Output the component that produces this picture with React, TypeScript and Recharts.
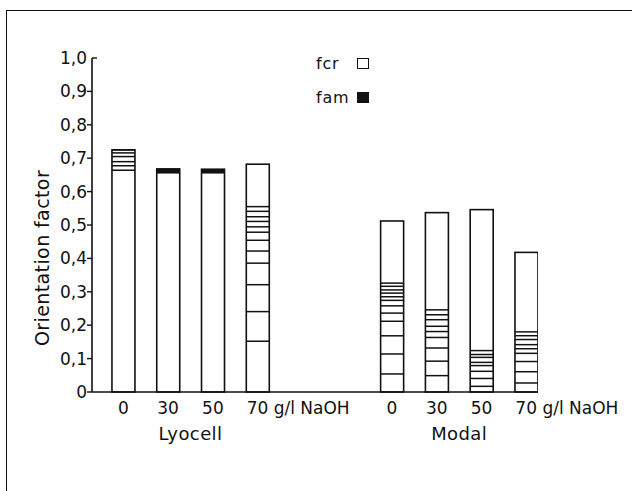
import { BarChart, Bar, XAxis, YAxis } from 'recharts';

// fibre types and NaOH concentrations (g/l)
const groups = ['Lyocell', 'Modal'];
const groupCenters = [1.5, 7.5];
const concentrations = ['0', '30', '50', '70', '0', '30', '50', '70'];
const slots = [0, 1, 2, 3, 6, 7, 8, 9];

// orientation factors
const fcr = [0.725, 0.668, 0.667, 0.682, 0.512, 0.537, 0.546, 0.418];
const famTop = [0.725, 0.668, 0.667, 0.555, 0.326, 0.246, 0.124, 0.18];
const famBottom = [0.664, 0.654, 0.654, 0.152, 0.054, 0.049, 0.017, 0.027];

const yTicks = [0, 0.1, 0.2, 0.3, 0.4, 0.5, 0.6, 0.7, 0.8, 0.9, 1.0];

const data = slots.map((slot, i) => ({
  slot,
  label: concentrations[i],
  fcr: fcr[i],
  famTop: famTop[i],
  famBottom: famBottom[i],
}));

const INK = '#111';
const FONT = '"DejaVu Sans", sans-serif';

// hatch spacing, as fractions of the fam range measured from its top
const HATCH = [0, 0.035, 0.075, 0.11, 0.15, 0.19, 0.25, 0.33, 0.42, 0.58, 0.78, 1];

function FiberBar(props: any) {
  const { x, y, width, height, payload } = props;
  const base = y + height;
  const perUnit = height / payload.fcr;
  const top = base - payload.famTop * perUnit;
  const bottom = base - payload.famBottom * perUnit;
  const span = bottom - top;

  const lines: number[] = [];
  HATCH.forEach((f) => {
    const ly = top + f * span;
    if (!lines.length || ly - lines[lines.length - 1] >= 2.8 || f === 1) lines.push(ly);
  });

  return (
    <g>
      <rect x={x} y={y} width={width} height={height} fill="#fff" stroke={INK} strokeWidth={1.6} />
      {span < 8 ? (
        <rect x={x} y={top} width={width} height={span} fill={INK} />
      ) : (
        lines.map((ly, j) => (
          <line key={j} x1={x} x2={x + width} y1={ly} y2={ly} stroke={INK} strokeWidth={1.5} />
        ))
      )}
    </g>
  );
}

function ConcTick(props: any) {
  const { x, y, payload } = props;
  const i = slots.indexOf(payload.value);
  const text = concentrations[i];
  if (text === '70') {
    return (
      <text x={x - 11} y={y + 22} textAnchor="start" fontSize={17} fill={INK} fontFamily={FONT}>
        70 g/l NaOH
      </text>
    );
  }
  return (
    <text x={x} y={y + 22} textAnchor="middle" fontSize={17} fill={INK} fontFamily={FONT}>
      {text}
    </text>
  );
}

function GroupTick(props: any) {
  const { x, y, payload } = props;
  const i = groupCenters.indexOf(payload.value);
  return (
    <text x={x} y={y + 23} textAnchor="middle" fontSize={18} fill={INK} fontFamily={FONT} letterSpacing={0.4}>
      {groups[i]}
    </text>
  );
}

function ValueTick(props: any) {
  const { x, y, payload } = props;
  const v = payload.value as number;
  const text = v === 0 ? '0' : v.toFixed(1).replace('.', ',');
  const atTop = v === 1;
  return (
    <g>
      <line x1={x} x2={atTop ? x + 5 : x - 5} y1={y} y2={y} stroke={INK} strokeWidth={1.4} />
      <text x={x - 5} y={y + 6} textAnchor="end" fontSize={17} fill={INK} fontFamily={FONT}>
        {text}
      </text>
    </g>
  );
}

function AxisTitle() {
  return (
    <text
      x={42}
      y={258}
      transform="rotate(-90 42 258)"
      textAnchor="middle"
      dominantBaseline="central"
      fontSize={19}
      letterSpacing={0.4}
      fill={INK}
      fontFamily={FONT}
    >
      Orientation factor
    </text>
  );
}

function LegendBox() {
  const row = { display: 'flex', alignItems: 'center', height: 22 } as const;
  const label = { width: 41, fontSize: 16, letterSpacing: 0.8, color: INK } as const;
  return (
    <div style={{ position: 'absolute', left: 316, top: 52, fontFamily: FONT }}>
      <div style={row}>
        <span style={label}>fcr</span>
        <span style={{ width: 10, height: 9, border: `1.5px solid ${INK}`, background: '#fff' }} />
      </div>
      <div style={{ ...row, marginTop: 12 }}>
        <span style={label}>fam</span>
        <span style={{ width: 12, height: 11, background: INK }} />
      </div>
    </div>
  );
}

export default function App() {
  return (
    <div style={{ position: 'absolute', left: 0, top: 0, width: 632, height: 491, background: '#fff' }}>
      <div
        style={{
          position: 'absolute',
          left: 6,
          top: 10,
          right: 0,
          bottom: 0,
          borderTop: `1.5px solid ${INK}`,
          borderLeft: `1.5px solid ${INK}`,
        }}
      />
      <BarChart
        width={632}
        height={491}
        data={data}
        margin={{ top: 58, right: 94, bottom: 34, left: 32 }}
        barSize={23}
        style={{ position: 'absolute', left: 0, top: 0 }}
      >
        <XAxis
          xAxisId="conc"
          dataKey="slot"
          type="number"
          domain={[-0.7, 9.26]}
          ticks={slots}
          interval={0}
          height={25}
          tickSize={0}
          tickMargin={0}
          tickLine={false}
          axisLine={{ stroke: INK, strokeWidth: 1.6 }}
          tick={<ConcTick />}
          allowDataOverflow
        />
        <XAxis
          xAxisId="group"
          dataKey="slot"
          type="number"
          domain={[-0.7, 9.26]}
          ticks={groupCenters}
          interval={0}
          height={40}
          tickSize={0}
          tickMargin={0}
          tickLine={false}
          axisLine={false}
          tick={<GroupTick />}
          allowDataOverflow
        />
        <YAxis
          type="number"
          domain={[0, 1]}
          ticks={yTicks}
          interval={0}
          width={60}
          tickSize={0}
          tickMargin={0}
          tickLine={false}
          axisLine={{ stroke: INK, strokeWidth: 1.6 }}
          tick={<ValueTick />}
          label={{ content: () => <AxisTitle /> }}
        />
        <Bar xAxisId="conc" dataKey="fcr" shape={<FiberBar />} isAnimationActive={false} />
      </BarChart>
      <LegendBox />
    </div>
  );
}
